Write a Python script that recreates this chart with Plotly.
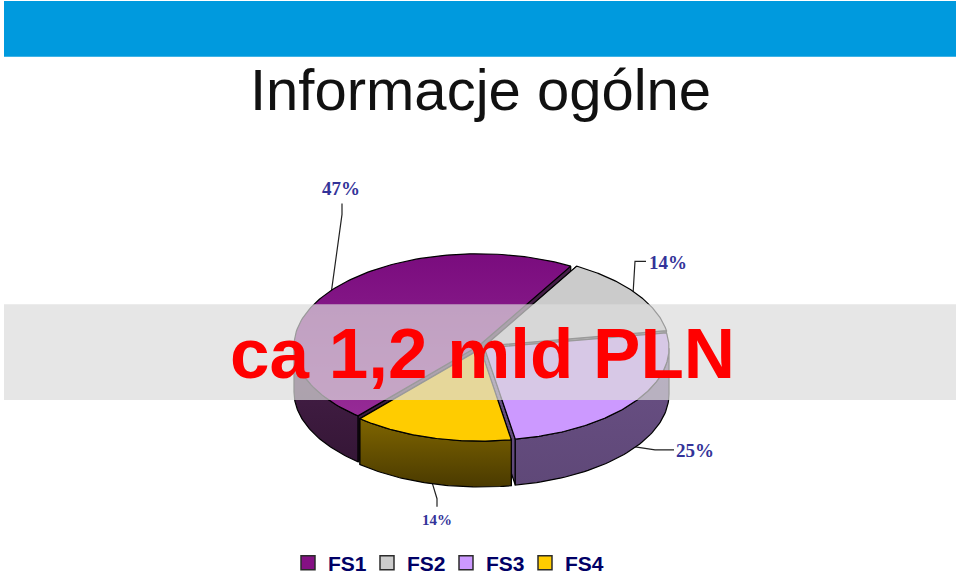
import math
import numpy as np
import plotly.graph_objects as go

# chart values
slice_names = ["FS1", "FS2", "FS3", "FS4"]
slice_values = [47, 14, 25, 14]
value_labels = ["47%", "14%", "25%", "14%"]
title_text = "Informacje ogólne"
banner_text = "ca 1,2 mld PLN"

# tilted pie geometry (page pixels)
CX, CY = 481.5, 348
RX, RY = 184.5, 92.5
DEPTH = 46
EXPLODE = 0.02
START = 390 - 360 * (47 / 100)  # FS1 ends at 390 = 30 deg from the top, where FS2 starts
LEGEND_ROOM = 30  # the legend takes this much off the plot area, so reserve it

# colours go [top of the shape, bottom of the shape]
top_colors = {
    "FS1": ["#7a0c7e", "#962b96"],
    "FS2": ["#cbcbcb", "#cbcbcb"],
    "FS3": ["#cc99ff", "#cc99ff"],
    "FS4": ["#ffcc00", "#ffcc00"],
}
side_colors = {
    "FS1": ["#47204a", "#351636"],
    "FS2": ["#5a5a5a", "#5a5a5a"],
    "FS3": ["#6a5085", "#5f4878"],
    "FS4": ["#7f6500", "#4a3a00"],
}
legend_colors = {"FS1": "#851184", "FS2": "#cccccc", "FS3": "#cc99ff", "FS4": "#ffcc00"}


def rim(angle, dx=0, dy=0, drop=0):
    a = np.radians(angle)
    return CX + dx + RX * np.sin(a), CY + dy - RY * np.cos(a) + drop


def poly(fig, xs, ys, colors):
    fig.add_trace(go.Scatter(
        x=list(xs), y=list(ys), mode="lines", fill="toself",
        fillgradient=dict(type="vertical", colorscale=[[0, colors[1]], [1, colors[0]]]),
        line=dict(color="#000000", width=1.2), hoverinfo="skip", showlegend=False,
    ))


fig = go.Figure()

angle = START
mid_angles = {}
for name, value in zip(slice_names, slice_values):
    sweep = 360 * value / sum(slice_values)
    a0, a1 = angle, angle + sweep
    angle = a1 % 360
    mid = (a0 + a1) / 2
    mid_angles[name] = mid
    dx = RX * EXPLODE * math.sin(math.radians(mid))
    dy = -RY * EXPLODE * math.cos(math.radians(mid))

    # cut faces, only the one turned to the viewer ends up visible
    for edge in (a0, a1):
        ex, ey = rim(edge, dx, dy)
        poly(fig, [CX + dx, ex, ex, CX + dx, CX + dx],
             [CY + dy, ey, ey + DEPTH, CY + dy + DEPTH, CY + dy], side_colors[name])

    # outer wall, front half of the ellipse only
    lo, hi = max(a0, 90), min(a1, 270)
    if hi > lo:
        t = np.linspace(lo, hi, 60)
        x_up, y_up = rim(t, dx, dy)
        x_dn, y_dn = rim(t[::-1], dx, dy, DEPTH)
        poly(fig, np.r_[x_up, x_dn, x_up[0]], np.r_[y_up, y_dn, y_up[0]], side_colors[name])

    # top face
    t = np.linspace(a0, a1, 120)
    x_top, y_top = rim(t, dx, dy)
    poly(fig, np.r_[CX + dx, x_top, CX + dx], np.r_[CY + dy, y_top, CY + dy], top_colors[name])

# legend entries
for name in slice_names:
    fig.add_trace(go.Scatter(
        x=[None], y=[None], mode="markers", name=name,
        marker=dict(symbol="square", size=14, color=legend_colors[name],
                    line=dict(color="#2b2b2b", width=1.5)),
    ))


# leader lines start on the rim at each slice's middle
def leader(name, drop, *points):
    x0, y0 = rim(mid_angles[name], drop=drop)
    path = f"M {x0:.1f} {y0:.1f} " + " ".join(f"L {px} {py}" for px, py in points)
    return dict(type="path", path=path, line=dict(color="#222222", width=1.2), layer="below")


shapes = [
    dict(type="rect", x0=4, x1=956, y0=1, y1=57, fillcolor="#009ade",
         line=dict(width=0), layer="below"),
    leader("FS1", 0, (342, 215), (342, 204)),
    leader("FS2", 0, (635, 262), (646, 262)),
    leader("FS3", DEPTH, (655, 451), (674, 451)),
    leader("FS4", DEPTH, (437, 500), (437, 508)),
    # translucent banner goes over the pie
    dict(type="rect", x0=4, x1=956, y0=305, y1=401, fillcolor="rgba(219,219,219,0.7)",
         line=dict(width=0), layer="above"),
]

SERIF = "Liberation Serif"
SANS = "Liberation Sans"
label_style = dict(showarrow=False, xanchor="center", yanchor="middle")
annotations = [
    dict(x=480, y=90, text=title_text, font=dict(family=SANS, size=58, color="#111111"), **label_style),
    dict(x=482, y=354, text=f"<b>{banner_text}</b>", font=dict(family=SANS, size=71, color="#ff0000"), **label_style),
    dict(x=341, y=189, text=f"<b>{value_labels[0]}</b>", font=dict(family=SERIF, size=19, color="#333399"), **label_style),
    dict(x=668, y=263, text=f"<b>{value_labels[1]}</b>", font=dict(family=SERIF, size=19, color="#333399"), **label_style),
    dict(x=695, y=452, text=f"<b>{value_labels[2]}</b>", font=dict(family=SERIF, size=19, color="#333399"), **label_style),
    dict(x=437, y=521, text=f"<b>{value_labels[3]}</b>", font=dict(family=SERIF, size=15, color="#333399"), **label_style),
]

fig.update_layout(
    width=960, height=574,
    margin=dict(l=0, r=0, t=0, b=LEGEND_ROOM),
    paper_bgcolor="#ffffff", plot_bgcolor="#ffffff",
    xaxis=dict(range=[0, 960], visible=False, fixedrange=True),
    yaxis=dict(range=[574 - LEGEND_ROOM, 0], visible=False, fixedrange=True),
    shapes=shapes,
    annotations=annotations,
    legend=dict(
        orientation="h", xref="container", yref="container",
        x=0.3, y=0.019, xanchor="left", yanchor="middle",
        entrywidth=34, entrywidthmode="pixels", itemwidth=30, bgcolor="rgba(0,0,0,0)",
        font=dict(family=SANS, size=21, color="#000066", weight="bold"),
    ),
)

# page margin would push everything 8px off
fig.write_html("out.html", config={"displayModeBar": False},
               post_script="document.body.style.margin='0';")
